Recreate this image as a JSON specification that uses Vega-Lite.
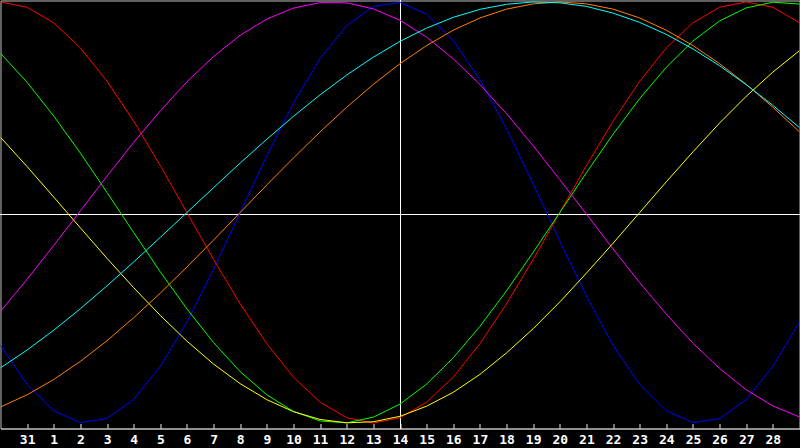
{
  "$schema": "https://vega.github.io/schema/vega-lite/v6.json",
  "description": "Biorhythm chart, seven cycles over one month",
  "background": "black",
  "autosize": {"type": "none"},
  "padding": {"left": 0.5, "top": 0.5, "right": 0.5, "bottom": 19.5},
  "width": 799,
  "height": 428,
  "config": {
    "view": {"stroke": "#c0c0c0", "strokeWidth": 1},
    "axis": {"grid": false},
    "axisX": {
      "domainColor": "#c0c0c0",
      "domainWidth": 1,
      "tickColor": "#e8e8e8",
      "tickSize": -5,
      "labelPadding": 10,
      "labelColor": "white",
      "labelFont": "DejaVu Sans Mono",
      "labelFontSize": 13,
      "labelFontWeight": "bold",
      "labelBaseline": "top",
      "labelFlush": false,
      "labelOverlap": false,
      "labelBound": false
    }
  },
  "data": {
    "values": [
      {"t": -1, "s": "Physical", "v": -0.631}, {"t": 0, "s": "Physical", "v": -0.817}, {"t": 1, "s": "Physical", "v": -0.942}, {"t": 2, "s": "Physical", "v": -0.998}, {"t": 3, "s": "Physical", "v": -0.979}, {"t": 4, "s": "Physical", "v": -0.888}, {"t": 5, "s": "Physical", "v": -0.731}, {"t": 6, "s": "Physical", "v": -0.52}, {"t": 7, "s": "Physical", "v": -0.27}, {"t": 8, "s": "Physical", "v": 0}, {"t": 9, "s": "Physical", "v": 0.27}, {"t": 10, "s": "Physical", "v": 0.52}, {"t": 11, "s": "Physical", "v": 0.731}, {"t": 12, "s": "Physical", "v": 0.888}, {"t": 13, "s": "Physical", "v": 0.979}, {"t": 14, "s": "Physical", "v": 0.998}, {"t": 15, "s": "Physical", "v": 0.942}, {"t": 16, "s": "Physical", "v": 0.817}, {"t": 17, "s": "Physical", "v": 0.631}, {"t": 18, "s": "Physical", "v": 0.398}, {"t": 19, "s": "Physical", "v": 0.136}, {"t": 20, "s": "Physical", "v": -0.136}, {"t": 21, "s": "Physical", "v": -0.398}, {"t": 22, "s": "Physical", "v": -0.631}, {"t": 23, "s": "Physical", "v": -0.817}, {"t": 24, "s": "Physical", "v": -0.942}, {"t": 25, "s": "Physical", "v": -0.998}, {"t": 26, "s": "Physical", "v": -0.979}, {"t": 27, "s": "Physical", "v": -0.888}, {"t": 28, "s": "Physical", "v": -0.731}, {"t": 29, "s": "Physical", "v": -0.52},

      {"t": -1, "s": "Emotional", "v": 1}, {"t": 0, "s": "Emotional", "v": 0.975}, {"t": 1, "s": "Emotional", "v": 0.901}, {"t": 2, "s": "Emotional", "v": 0.782}, {"t": 3, "s": "Emotional", "v": 0.623}, {"t": 4, "s": "Emotional", "v": 0.434}, {"t": 5, "s": "Emotional", "v": 0.223}, {"t": 6, "s": "Emotional", "v": 0}, {"t": 7, "s": "Emotional", "v": -0.223}, {"t": 8, "s": "Emotional", "v": -0.434}, {"t": 9, "s": "Emotional", "v": -0.623}, {"t": 10, "s": "Emotional", "v": -0.782}, {"t": 11, "s": "Emotional", "v": -0.901}, {"t": 12, "s": "Emotional", "v": -0.975}, {"t": 13, "s": "Emotional", "v": -1}, {"t": 14, "s": "Emotional", "v": -0.975}, {"t": 15, "s": "Emotional", "v": -0.901}, {"t": 16, "s": "Emotional", "v": -0.782}, {"t": 17, "s": "Emotional", "v": -0.623}, {"t": 18, "s": "Emotional", "v": -0.434}, {"t": 19, "s": "Emotional", "v": -0.223}, {"t": 20, "s": "Emotional", "v": 0}, {"t": 21, "s": "Emotional", "v": 0.223}, {"t": 22, "s": "Emotional", "v": 0.434}, {"t": 23, "s": "Emotional", "v": 0.623}, {"t": 24, "s": "Emotional", "v": 0.782}, {"t": 25, "s": "Emotional", "v": 0.901}, {"t": 26, "s": "Emotional", "v": 0.975}, {"t": 27, "s": "Emotional", "v": 1}, {"t": 28, "s": "Emotional", "v": 0.975}, {"t": 29, "s": "Emotional", "v": 0.901},

      {"t": -1, "s": "Intellectual", "v": 0.756}, {"t": 0, "s": "Intellectual", "v": 0.618}, {"t": 1, "s": "Intellectual", "v": 0.458}, {"t": 2, "s": "Intellectual", "v": 0.282}, {"t": 3, "s": "Intellectual", "v": 0.095}, {"t": 4, "s": "Intellectual", "v": -0.095}, {"t": 5, "s": "Intellectual", "v": -0.282}, {"t": 6, "s": "Intellectual", "v": -0.458}, {"t": 7, "s": "Intellectual", "v": -0.618}, {"t": 8, "s": "Intellectual", "v": -0.756}, {"t": 9, "s": "Intellectual", "v": -0.866}, {"t": 10, "s": "Intellectual", "v": -0.945}, {"t": 11, "s": "Intellectual", "v": -0.99}, {"t": 12, "s": "Intellectual", "v": -0.999}, {"t": 13, "s": "Intellectual", "v": -0.972}, {"t": 14, "s": "Intellectual", "v": -0.91}, {"t": 15, "s": "Intellectual", "v": -0.815}, {"t": 16, "s": "Intellectual", "v": -0.69}, {"t": 17, "s": "Intellectual", "v": -0.541}, {"t": 18, "s": "Intellectual", "v": -0.372}, {"t": 19, "s": "Intellectual", "v": -0.189}, {"t": 20, "s": "Intellectual", "v": 0}, {"t": 21, "s": "Intellectual", "v": 0.189}, {"t": 22, "s": "Intellectual", "v": 0.372}, {"t": 23, "s": "Intellectual", "v": 0.541}, {"t": 24, "s": "Intellectual", "v": 0.69}, {"t": 25, "s": "Intellectual", "v": 0.815}, {"t": 26, "s": "Intellectual", "v": 0.91}, {"t": 27, "s": "Intellectual", "v": 0.972}, {"t": 28, "s": "Intellectual", "v": 0.999}, {"t": 29, "s": "Intellectual", "v": 0.99},

      {"t": -1, "s": "Intuitive", "v": -0.469}, {"t": 0, "s": "Intuitive", "v": -0.317}, {"t": 1, "s": "Intuitive", "v": -0.156}, {"t": 2, "s": "Intuitive", "v": 0.008}, {"t": 3, "s": "Intuitive", "v": 0.173}, {"t": 4, "s": "Intuitive", "v": 0.333}, {"t": 5, "s": "Intuitive", "v": 0.483}, {"t": 6, "s": "Intuitive", "v": 0.621}, {"t": 7, "s": "Intuitive", "v": 0.741}, {"t": 8, "s": "Intuitive", "v": 0.842}, {"t": 9, "s": "Intuitive", "v": 0.919}, {"t": 10, "s": "Intuitive", "v": 0.971}, {"t": 11, "s": "Intuitive", "v": 0.997}, {"t": 12, "s": "Intuitive", "v": 0.996}, {"t": 13, "s": "Intuitive", "v": 0.967}, {"t": 14, "s": "Intuitive", "v": 0.913}, {"t": 15, "s": "Intuitive", "v": 0.833}, {"t": 16, "s": "Intuitive", "v": 0.73}, {"t": 17, "s": "Intuitive", "v": 0.608}, {"t": 18, "s": "Intuitive", "v": 0.469}, {"t": 19, "s": "Intuitive", "v": 0.317}, {"t": 20, "s": "Intuitive", "v": 0.156}, {"t": 21, "s": "Intuitive", "v": -0.008}, {"t": 22, "s": "Intuitive", "v": -0.173}, {"t": 23, "s": "Intuitive", "v": -0.333}, {"t": 24, "s": "Intuitive", "v": -0.483}, {"t": 25, "s": "Intuitive", "v": -0.621}, {"t": 26, "s": "Intuitive", "v": -0.741}, {"t": 27, "s": "Intuitive", "v": -0.842}, {"t": 28, "s": "Intuitive", "v": -0.919}, {"t": 29, "s": "Intuitive", "v": -0.971},

      {"t": -1, "s": "Aesthetic", "v": 0.357}, {"t": 0, "s": "Aesthetic", "v": 0.218}, {"t": 1, "s": "Aesthetic", "v": 0.073}, {"t": 2, "s": "Aesthetic", "v": -0.073}, {"t": 3, "s": "Aesthetic", "v": -0.218}, {"t": 4, "s": "Aesthetic", "v": -0.357}, {"t": 5, "s": "Aesthetic", "v": -0.489}, {"t": 6, "s": "Aesthetic", "v": -0.611}, {"t": 7, "s": "Aesthetic", "v": -0.72}, {"t": 8, "s": "Aesthetic", "v": -0.813}, {"t": 9, "s": "Aesthetic", "v": -0.889}, {"t": 10, "s": "Aesthetic", "v": -0.946}, {"t": 11, "s": "Aesthetic", "v": -0.983}, {"t": 12, "s": "Aesthetic", "v": -0.999}, {"t": 13, "s": "Aesthetic", "v": -0.994}, {"t": 14, "s": "Aesthetic", "v": -0.968}, {"t": 15, "s": "Aesthetic", "v": -0.92}, {"t": 16, "s": "Aesthetic", "v": -0.854}, {"t": 17, "s": "Aesthetic", "v": -0.769}, {"t": 18, "s": "Aesthetic", "v": -0.667}, {"t": 19, "s": "Aesthetic", "v": -0.552}, {"t": 20, "s": "Aesthetic", "v": -0.425}, {"t": 21, "s": "Aesthetic", "v": -0.288}, {"t": 22, "s": "Aesthetic", "v": -0.146}, {"t": 23, "s": "Aesthetic", "v": 0}, {"t": 24, "s": "Aesthetic", "v": 0.146}, {"t": 25, "s": "Aesthetic", "v": 0.288}, {"t": 26, "s": "Aesthetic", "v": 0.425}, {"t": 27, "s": "Aesthetic", "v": 0.552}, {"t": 28, "s": "Aesthetic", "v": 0.667}, {"t": 29, "s": "Aesthetic", "v": 0.769},

      {"t": -1, "s": "Awareness", "v": -0.924}, {"t": 0, "s": "Awareness", "v": -0.866}, {"t": 1, "s": "Awareness", "v": -0.793}, {"t": 2, "s": "Awareness", "v": -0.707}, {"t": 3, "s": "Awareness", "v": -0.609}, {"t": 4, "s": "Awareness", "v": -0.5}, {"t": 5, "s": "Awareness", "v": -0.383}, {"t": 6, "s": "Awareness", "v": -0.259}, {"t": 7, "s": "Awareness", "v": -0.131}, {"t": 8, "s": "Awareness", "v": 0}, {"t": 9, "s": "Awareness", "v": 0.131}, {"t": 10, "s": "Awareness", "v": 0.259}, {"t": 11, "s": "Awareness", "v": 0.383}, {"t": 12, "s": "Awareness", "v": 0.5}, {"t": 13, "s": "Awareness", "v": 0.609}, {"t": 14, "s": "Awareness", "v": 0.707}, {"t": 15, "s": "Awareness", "v": 0.793}, {"t": 16, "s": "Awareness", "v": 0.866}, {"t": 17, "s": "Awareness", "v": 0.924}, {"t": 18, "s": "Awareness", "v": 0.966}, {"t": 19, "s": "Awareness", "v": 0.991}, {"t": 20, "s": "Awareness", "v": 1}, {"t": 21, "s": "Awareness", "v": 0.991}, {"t": 22, "s": "Awareness", "v": 0.966}, {"t": 23, "s": "Awareness", "v": 0.924}, {"t": 24, "s": "Awareness", "v": 0.866}, {"t": 25, "s": "Awareness", "v": 0.793}, {"t": 26, "s": "Awareness", "v": 0.707}, {"t": 27, "s": "Awareness", "v": 0.609}, {"t": 28, "s": "Awareness", "v": 0.5}, {"t": 29, "s": "Awareness", "v": 0.383},

      {"t": -1, "s": "Spiritual", "v": -0.738}, {"t": 0, "s": "Spiritual", "v": -0.653}, {"t": 1, "s": "Spiritual", "v": -0.559}, {"t": 2, "s": "Spiritual", "v": -0.457}, {"t": 3, "s": "Spiritual", "v": -0.348}, {"t": 4, "s": "Spiritual", "v": -0.235}, {"t": 5, "s": "Spiritual", "v": -0.118}, {"t": 6, "s": "Spiritual", "v": 0}, {"t": 7, "s": "Spiritual", "v": 0.118}, {"t": 8, "s": "Spiritual", "v": 0.235}, {"t": 9, "s": "Spiritual", "v": 0.348}, {"t": 10, "s": "Spiritual", "v": 0.457}, {"t": 11, "s": "Spiritual", "v": 0.559}, {"t": 12, "s": "Spiritual", "v": 0.653}, {"t": 13, "s": "Spiritual", "v": 0.738}, {"t": 14, "s": "Spiritual", "v": 0.813}, {"t": 15, "s": "Spiritual", "v": 0.876}, {"t": 16, "s": "Spiritual", "v": 0.927}, {"t": 17, "s": "Spiritual", "v": 0.965}, {"t": 18, "s": "Spiritual", "v": 0.989}, {"t": 19, "s": "Spiritual", "v": 1}, {"t": 20, "s": "Spiritual", "v": 0.996}, {"t": 21, "s": "Spiritual", "v": 0.979}, {"t": 22, "s": "Spiritual", "v": 0.947}, {"t": 23, "s": "Spiritual", "v": 0.903}, {"t": 24, "s": "Spiritual", "v": 0.846}, {"t": 25, "s": "Spiritual", "v": 0.777}, {"t": 26, "s": "Spiritual", "v": 0.697}, {"t": 27, "s": "Spiritual", "v": 0.607}, {"t": 28, "s": "Spiritual", "v": 0.509}, {"t": 29, "s": "Spiritual", "v": 0.403}
    ]
  },
  "encoding": {
    "x": {
      "field": "t",
      "type": "quantitative",
      "scale": {"domain": [-1, 29], "nice": false, "zero": false},
      "axis": {
        "title": null,
        "values": [0, 1, 2, 3, 4, 5, 6, 7, 8, 9, 10, 11, 12, 13, 14, 15, 16, 17, 18, 19, 20, 21, 22, 23, 24, 25, 26, 27, 28],
        "labelExpr": "datum.value == 0 ? '31' : datum.value",
        "labelOverlap": false
      }
    },
    "y": {
      "field": "v",
      "type": "quantitative",
      "scale": {"domain": [-1.026, 1.007], "nice": false, "zero": false},
      "axis": null
    }
  },
  "layer": [
    {
      "mark": {"type": "rule", "color": "white", "strokeWidth": 1, "yOffset": 2},
      "encoding": {"y": {"datum": 0}, "x": null}
    },
    {
      "mark": {"type": "rule", "color": "white", "strokeWidth": 1, "xOffset": 0.5},
      "encoding": {"x": {"datum": 14}, "y": null}
    },
    {
      "mark": {"type": "line", "strokeWidth": 1, "clip": true},
      "encoding": {
        "color": {
          "field": "s",
          "type": "nominal",
          "legend": null,
          "scale": {
            "domain": ["Physical", "Emotional", "Intellectual", "Intuitive", "Aesthetic", "Awareness", "Spiritual"],
            "range": ["#0000ff", "#ff0000", "#00ff00", "#ff00ff", "#ffff00", "#ff8000", "#00ffff"]
          }
        }
      }
    }
  ]
}
